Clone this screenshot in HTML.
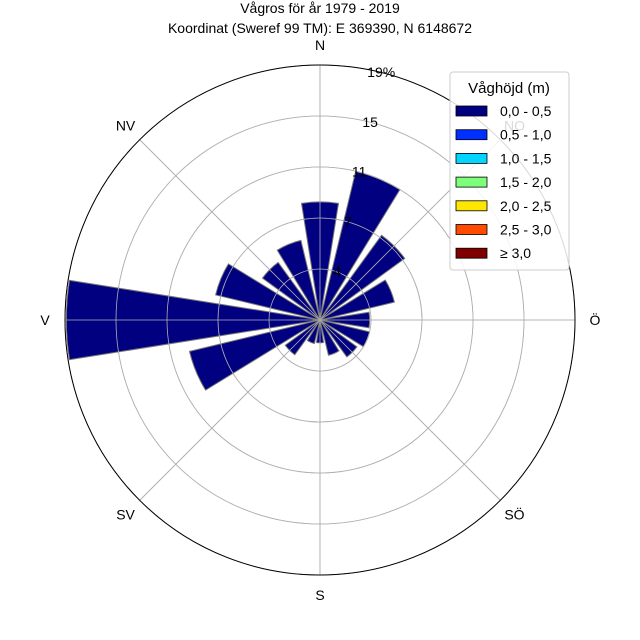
<!DOCTYPE html>
<html><head><meta charset="utf-8"><style>
body{margin:0;background:#fff;}
svg{display:block;font-family:"Liberation Sans",sans-serif;}
</style></head><body>
<svg id="chart" width="640" height="640" viewBox="0 0 640 640" xmlns="http://www.w3.org/2000/svg">
<rect width="640" height="640" fill="#fff"/>
<text x="320" y="13" font-size="14" text-anchor="middle">Vågros för år 1979 - 2019</text>
<text x="320" y="33" font-size="14" text-anchor="middle">Koordinat (Sweref 99 TM): E 369390, N 6148672</text>
<g id="grid"></g>
<g id="bars"></g>
<circle cx="320" cy="320" r="255" fill="none" stroke="#000" stroke-width="1"/>
<g id="labels" font-size="14"></g>
<g>
<rect x="450" y="72" width="119" height="198" rx="3" fill="#fff" fill-opacity="0.85" stroke="#ccc"/>
<text x="509" y="93" font-size="15" text-anchor="middle">Våghöjd (m)</text>
<g id="legend-entries"></g>
</g>
</svg>
<script>
const directions = [0,22.5,45,67.5,90,112.5,135,157.5,180,202.5,225,247.5,270,292.5,315,337.5];
const frequencies = [8.8,11.4,7.8,5.7,3.7,3.8,3.4,2.7,1.7,1.8,3.2,10.0,18.9,8.0,5.3,6.1];
const tickLabels = ["4","7","11","15","19%"];
const dirLabels = ["N","NO","Ö","SÖ","S","SV","V","NV"];
const legendLabels = ["0,0 - 0,5","0,5 - 1,0","1,0 - 1,5","1,5 - 2,0","2,0 - 2,5","2,5 - 3,0","≥ 3,0"];
const legendColors = ["#000080","#0030ff","#00d4ff","#7dff7a","#ffe600","#ff4a00","#800000"];

const NS="http://www.w3.org/2000/svg";
const cx=320, cy=320, R=255, rMax=19;
const rScale=v=>v/rMax*R;
function pt(deg,r){const a=deg*Math.PI/180;return [cx+r*Math.sin(a),cy-r*Math.cos(a)];}

const grid=document.getElementById('grid');
for(let i=1;i<=5;i++){
  const c=document.createElementNS(NS,'circle');
  
  
  c.setAttribute('cx',cx);c.setAttribute('cy',cy);c.setAttribute('r',R*i/5);
  c.setAttribute('fill','none');c.setAttribute('stroke','#b0b0b0');c.setAttribute('stroke-width','0.8');
  grid.appendChild(c);
}
for(let k=0;k<8;k++){
  const [x,y]=pt(k*45,R);
  const l=document.createElementNS(NS,'line');
  
  
  l.setAttribute('x1',cx);l.setAttribute('y1',cy);l.setAttribute('x2',x);l.setAttribute('y2',y);
  l.setAttribute('stroke','#b0b0b0');l.setAttribute('stroke-width','0.8');
  grid.appendChild(l);
}

const bars=document.getElementById('bars');
const half=9;
directions.forEach((d,i)=>{
  const r=rScale(frequencies[i]);
  const [x1,y1]=pt(d-half,r),[x2,y2]=pt(d+half,r);
  const p=document.createElementNS(NS,'path');
  
  
  p.setAttribute('d',`M${cx},${cy} L${x1},${y1} A${r},${r} 0 0 1 ${x2},${y2} Z`);
  p.setAttribute('fill','#000080');p.setAttribute('stroke','#777');p.setAttribute('stroke-width','1');
  bars.appendChild(p);
});
// re-draw grid lines lightly over bars
for(let k=0;k<8;k++){
  const [x,y]=pt(k*45,R);
  const l=document.createElementNS(NS,'line');
  
  
  l.setAttribute('x1',cx);l.setAttribute('y1',cy);l.setAttribute('x2',x);l.setAttribute('y2',y);
  l.setAttribute('stroke','#b0b0b0');l.setAttribute('stroke-width','0.8');
  bars.appendChild(l);
}
for(let i=1;i<=5;i++){
  const c=document.createElementNS(NS,'circle');
  
  
  c.setAttribute('cx',cx);c.setAttribute('cy',cy);c.setAttribute('r',R*i/5);
  c.setAttribute('fill','none');c.setAttribute('stroke','#b0b0b0');c.setAttribute('stroke-width','0.8');
  bars.appendChild(c);
}

const labels=document.getElementById('labels');
dirLabels.forEach((t,k)=>{
  const [x,y]=pt(k*45,R+20);
  const e=document.createElementNS(NS,'text');
  
  
  e.setAttribute('x',x);e.setAttribute('y',y+5);e.setAttribute('text-anchor','middle');
  e.textContent=t;labels.appendChild(e);
});
tickLabels.forEach((t,i)=>{
  const [x,y]=pt(12.5,R*(i+1)/5);
  const e=document.createElementNS(NS,'text');
  
  
  e.setAttribute('x',x+6);e.setAttribute('y',y+6);e.setAttribute('text-anchor','middle');
  e.textContent=t;labels.appendChild(e);
});

const le=document.getElementById('legend-entries');
legendLabels.forEach((t,i)=>{
  const y=111+i*23.7;
  const r=document.createElementNS(NS,'rect');
  
  
  r.setAttribute('x',456);r.setAttribute('y',y-5);r.setAttribute('width',31);r.setAttribute('height',10);
  r.setAttribute('fill',legendColors[i]);r.setAttribute('stroke','#000');r.setAttribute('stroke-width','0.8');
  le.appendChild(r);
  const e=document.createElementNS(NS,'text');
  
  
  e.setAttribute('x',500);e.setAttribute('y',y+5);e.setAttribute('font-size','14');
  e.textContent=t;le.appendChild(e);
});
</script>
</body></html>
